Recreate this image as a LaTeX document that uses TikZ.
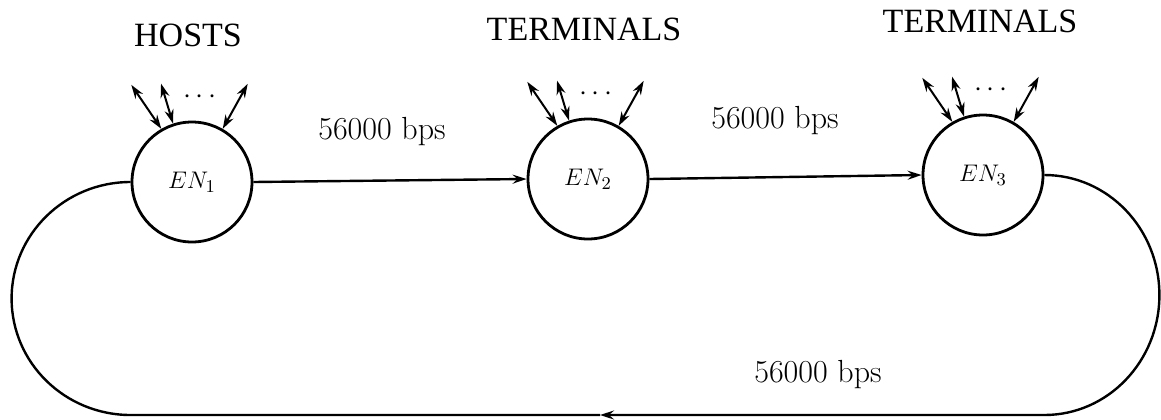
\documentclass[tikz,border=0pt]{standalone}
\usepackage{fontspec}
\newfontfamily\titlefont{Liberation Serif}
\usetikzlibrary{arrows.meta}
\begin{document}
\begin{tikzpicture}[x=0.5pt,y=-0.5pt,
  en/.style={circle,draw,line width=1.4pt,minimum size=60pt,inner sep=0pt,
    font=\fontsize{13}{15}\selectfont},
  link/.style={line width=1.2pt,-{Stealth[length=7pt,width=4.5pt,inset=2.5pt]}},
  loopline/.style={line width=1.2pt},
  dbl/.style={line width=1pt,{Stealth[length=7pt,width=4.5pt,inset=2.3pt]}-{Stealth[length=7pt,width=4.5pt,inset=2.3pt]}},
  ttl/.style={font=\titlefont\fontsize{17}{20}\selectfont,inner sep=0pt},
  rate/.style={font=\fontsize{16}{19}\selectfont,inner sep=0pt},
  dots/.style={inner sep=0pt,font=\fontsize{14}{16}\selectfont}]
\useasboundingbox (0,0) rectangle (1161,419);

\node[en] (e1) at (192,182) {$EN_1$};
\node[en] (e2) at (588,179) {$EN_2$};
\node[en] (e3) at (983,175) {$EN_3$};

\node[ttl] (t1) at (188,35) {HOSTS};
\node[ttl] (t2) at (584,29) {TERMINALS};
\node[ttl] (t3) at (980,21) {TERMINALS};

\node[rate] (r1) at (382,132) {56000 bps};
\node[rate] (r2) at (775,121) {56000 bps};
\node[rate] (r3) at (818,375) {56000 bps};

\draw[link] (e1.east) -- (e2.west);
\draw[link] (e2.east) -- (e3.west);

\coordinate (bm) at (600,415);
\draw[link] (e3.east) arc[start angle=90,end angle=-90,x radius=57.5pt,y radius=60pt] -- (bm);
\draw[loopline] (e1.west) arc[start angle=90,end angle=270,x radius=59.5pt,y radius=58.25pt] -- (bm);

\foreach \n in {e1,e2,e3}{
  \draw[dbl] (\n.120) -- ++(-30,-44) coordinate (\n a);
  \draw[dbl] (\n.108) -- ++(-12,-40) coordinate (\n b);
  \draw[dbl] (\n.60) -- ++(25,-45) coordinate (\n c);
  \node[dots] (\n d) at ([xshift=4pt,yshift=12pt]\n.north) {$\cdots$};
}
\end{tikzpicture}
\end{document}
